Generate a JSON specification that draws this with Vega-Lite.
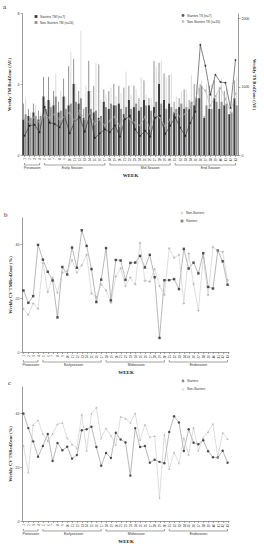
{
"$schema": "https://vega.github.io/schema/vega-lite/v6.json",
"padding": {"left": 3, "top": 3, "right": 0, "bottom": 0},
"data": {"name": "weeks"},
"datasets": {
"weeks": [
{"w":1,"g":"Starters","tm":2.0,"hi":2.9,"ts":282,"cm":22.8,"cs":39.8},{"w":1,"g":"Non-Starters","tm":2.3,"hi":3.2,"ts":520,"cm":16.0,"cs":27.9},
{"w":2,"g":"Starters","tm":2.2,"hi":2.6,"ts":428,"cm":18.2,"cs":34.4},{"w":2,"g":"Non-Starters","tm":2.1,"hi":2.4,"ts":480,"cm":13.8,"cs":18.0},
{"w":3,"g":"Starters","tm":2.4,"hi":2.9,"ts":443,"cm":20.7,"cs":29.5},{"w":3,"g":"Non-Starters","tm":2.2,"hi":2.8,"ts":560,"cm":18.0,"cs":35.6},
{"w":4,"g":"Starters","tm":2.0,"hi":2.5,"ts":331,"cm":39.7,"cs":23.8},{"w":4,"g":"Non-Starters","tm":2.2,"hi":2.4,"ts":470,"cm":16.0,"cs":37.3},
{"w":5,"g":"Starters","tm":3.3,"hi":4.4,"ts":706,"cm":34.2,"cs":27.8},{"w":5,"g":"Non-Starters","tm":2.6,"hi":3.0,"ts":590,"cm":33.0,"cs":32.3},
{"w":6,"g":"Starters","tm":3.1,"hi":4.4,"ts":472,"cm":29.7,"cs":32.2},{"w":6,"g":"Non-Starters","tm":2.7,"hi":3.0,"ts":540,"cm":22.2,"cs":29.6},
{"w":7,"g":"Starters","tm":2.8,"hi":3.6,"ts":453,"cm":26.5,"cs":22.2},{"w":7,"g":"Non-Starters","tm":3.3,"hi":4.6,"ts":600,"cm":27.5,"cs":32.2},
{"w":8,"g":"Starters","tm":2.4,"hi":3.0,"ts":404,"cm":12.8,"cs":28.9},{"w":8,"g":"Non-Starters","tm":2.5,"hi":3.6,"ts":520,"cm":21.9,"cs":35.9},
{"w":9,"g":"Starters","tm":3.3,"hi":4.3,"ts":564,"cm":31.5,"cs":26.2},{"w":9,"g":"Non-Starters","tm":2.6,"hi":3.3,"ts":560,"cm":29.4,"cs":36.4},
{"w":10,"g":"Starters","tm":2.8,"hi":5.0,"ts":316,"cm":28.7,"cs":27.5},{"w":10,"g":"Non-Starters","tm":2.9,"hi":5.8,"ts":620,"cm":30.0,"cs":30.7},
{"w":11,"g":"Starters","tm":4.0,"hi":5.4,"ts":491,"cm":38.7,"cs":23.1},{"w":11,"g":"Non-Starters","tm":3.0,"hi":4.0,"ts":480,"cm":34.0,"cs":28.4},
{"w":12,"g":"Starters","tm":2.9,"hi":3.6,"ts":550,"cm":31.2,"cs":24.4},{"w":12,"g":"Non-Starters","tm":3.2,"hi":7.0,"ts":650,"cm":29.4,"cs":27.0},
{"w":13,"g":"Starters","tm":2.1,"hi":2.6,"ts":341,"cm":45.1,"cs":33.6},{"w":13,"g":"Non-Starters","tm":2.7,"hi":3.9,"ts":520,"cm":32.1,"cs":39.5},
{"w":14,"g":"Starters","tm":3.6,"hi":5.3,"ts":584,"cm":39.3,"cs":34.0},{"w":14,"g":"Non-Starters","tm":2.6,"hi":3.6,"ts":600,"cm":36.0,"cs":26.0},
{"w":15,"g":"Starters","tm":2.4,"hi":3.9,"ts":248,"cm":30.7,"cs":34.9},{"w":15,"g":"Non-Starters","tm":2.5,"hi":5.2,"ts":450,"cm":21.7,"cs":39.8},
{"w":16,"g":"Starters","tm":2.1,"hi":5.1,"ts":316,"cm":18.5,"cs":27.4},{"w":16,"g":"Non-Starters","tm":2.2,"hi":3.1,"ts":520,"cm":20.3,"cs":42.1},
{"w":17,"g":"Starters","tm":3.0,"hi":3.7,"ts":375,"cm":26.8,"cs":20.5},{"w":17,"g":"Non-Starters","tm":2.7,"hi":3.4,"ts":430,"cm":25.0,"cs":30.7},
{"w":18,"g":"Starters","tm":2.6,"hi":3.6,"ts":331,"cm":38.5,"cs":25.2},{"w":18,"g":"Non-Starters","tm":2.9,"hi":3.8,"ts":500,"cm":22.9,"cs":34.3},
{"w":19,"g":"Starters","tm":2.8,"hi":4.0,"ts":433,"cm":19.1,"cs":23.3},{"w":19,"g":"Non-Starters","tm":2.8,"hi":3.3,"ts":560,"cm":18.2,"cs":31.6},
{"w":20,"g":"Starters","tm":2.9,"hi":3.9,"ts":268,"cm":34.1,"cs":32.7},{"w":20,"g":"Non-Starters","tm":2.6,"hi":3.5,"ts":420,"cm":28.0,"cs":28.3},
{"w":21,"g":"Starters","tm":2.3,"hi":3.8,"ts":521,"cm":33.9,"cs":30.2},{"w":21,"g":"Non-Starters","tm":2.7,"hi":4.7,"ts":580,"cm":31.0,"cs":38.6},
{"w":22,"g":"Starters","tm":3.1,"hi":3.9,"ts":574,"cm":26.7,"cs":29.1},{"w":22,"g":"Non-Starters","tm":2.6,"hi":3.4,"ts":520,"cm":24.4,"cs":37.9},
{"w":23,"g":"Starters","tm":2.7,"hi":3.9,"ts":375,"cm":33.0,"cs":16.8},{"w":23,"g":"Non-Starters","tm":2.9,"hi":3.7,"ts":470,"cm":27.6,"cs":36.4},
{"w":24,"g":"Starters","tm":2.5,"hi":3.2,"ts":277,"cm":33.1,"cs":34.4},{"w":24,"g":"Non-Starters","tm":2.7,"hi":4.4,"ts":430,"cm":25.1,"cs":39.9},
{"w":25,"g":"Starters","tm":3.1,"hi":4.2,"ts":355,"cm":35.6,"cs":27.4},{"w":25,"g":"Non-Starters","tm":2.8,"hi":3.4,"ts":560,"cm":40.4,"cs":30.1},
{"w":26,"g":"Starters","tm":2.8,"hi":3.2,"ts":268,"cm":31.3,"cs":27.8},{"w":26,"g":"Non-Starters","tm":2.5,"hi":3.2,"ts":380,"cm":26.4,"cs":35.7},
{"w":27,"g":"Starters","tm":2.7,"hi":5.3,"ts":545,"cm":36.0,"cs":21.6},{"w":27,"g":"Non-Starters","tm":3.0,"hi":5.0,"ts":600,"cm":26.1,"cs":31.0},
{"w":28,"g":"Starters","tm":4.0,"hi":5.2,"ts":574,"cm":27.7,"cs":22.7},{"w":28,"g":"Non-Starters","tm":2.9,"hi":5.3,"ts":540,"cm":30.7,"cs":31.5},
{"w":29,"g":"Starters","tm":3.1,"hi":4.6,"ts":307,"cm":5.2,"cs":21.9},{"w":29,"g":"Non-Starters","tm":2.6,"hi":4.4,"ts":420,"cm":24.4,"cs":8.5},
{"w":30,"g":"Starters","tm":2.9,"hi":4.5,"ts":428,"cm":26.6,"cs":21.4},{"w":30,"g":"Non-Starters","tm":2.7,"hi":4.6,"ts":520,"cm":21.2,"cs":32.1},
{"w":31,"g":"Starters","tm":2.4,"hi":3.0,"ts":550,"cm":26.6,"cs":33.0},{"w":31,"g":"Non-Starters","tm":2.6,"hi":3.3,"ts":640,"cm":38.4,"cs":19.3},
{"w":32,"g":"Starters","tm":2.7,"hi":3.2,"ts":400,"cm":27.0,"cs":38.8},{"w":32,"g":"Non-Starters","tm":2.9,"hi":3.6,"ts":560,"cm":34.9,"cs":25.4},
{"w":33,"g":"Starters","tm":2.6,"hi":3.7,"ts":277,"cm":23.3,"cs":36.5},{"w":33,"g":"Non-Starters","tm":2.7,"hi":3.7,"ts":600,"cm":36.0,"cs":21.4},
{"w":34,"g":"Starters","tm":2.6,"hi":3.1,"ts":467,"cm":38.2,"cs":25.9},{"w":34,"g":"Non-Starters","tm":3.0,"hi":4.5,"ts":700,"cm":18.0,"cs":30.7},
{"w":35,"g":"Starters","tm":2.8,"hi":4.0,"ts":633,"cm":30.9,"cs":34.0},{"w":35,"g":"Non-Starters","tm":3.2,"hi":4.0,"ts":820,"cm":36.5,"cs":24.6},
{"w":36,"g":"Starters","tm":3.2,"hi":3.8,"ts":1611,"cm":33.1,"cs":29.0},{"w":36,"g":"Non-Starters","tm":3.9,"hi":4.2,"ts":1020,"cm":25.2,"cs":34.6},
{"w":37,"g":"Starters","tm":2.1,"hi":2.2,"ts":1304,"cm":29.1,"cs":28.4},{"w":37,"g":"Non-Starters","tm":2.8,"hi":4.0,"ts":940,"cm":15.4,"cs":26.0},
{"w":38,"g":"Starters","tm":2.6,"hi":3.9,"ts":881,"cm":36.6,"cs":29.9},{"w":38,"g":"Non-Starters","tm":2.6,"hi":4.0,"ts":720,"cm":35.0,"cs":30.9},
{"w":39,"g":"Starters","tm":3.2,"hi":4.2,"ts":1173,"cm":24.1,"cs":25.8},{"w":39,"g":"Non-Starters","tm":3.0,"hi":3.5,"ts":860,"cm":21.1,"cs":33.0},
{"w":40,"g":"Starters","tm":2.6,"hi":3.8,"ts":1066,"cm":23.5,"cs":23.6},{"w":40,"g":"Non-Starters","tm":3.0,"hi":4.3,"ts":980,"cm":38.9,"cs":36.0},
{"w":41,"g":"Starters","tm":2.8,"hi":3.6,"ts":1056,"cm":37.6,"cs":23.5},{"w":41,"g":"Non-Starters","tm":2.9,"hi":3.7,"ts":820,"cm":37.4,"cs":23.7},
{"w":42,"g":"Starters","tm":2.3,"hi":2.3,"ts":686,"cm":33.6,"cs":26.0},{"w":42,"g":"Non-Starters","tm":2.4,"hi":3.1,"ts":620,"cm":37.1,"cs":32.7},
{"w":43,"g":"Starters","tm":3.2,"hi":4.2,"ts":1387,"cm":24.9,"cs":21.6},{"w":43,"g":"Non-Starters","tm":2.8,"hi":4.4,"ts":900,"cm":26.6,"cs":30.4}
],
"phA": [{"p":"Preseason","s":1,"e":4,"m":2.5},{"p":"Early Season","s":5,"e":17,"m":10.5},{"p":"Mid Season","s":18,"e":30,"m":26},{"p":"End Season","s":31,"e":43,"m":38}],
"phB": [{"p":"Preseason","s":1,"e":4,"m":2.5},{"p":"Earlyseason","s":5,"e":17,"m":11.3},{"p":"Midseason","s":18,"e":30,"m":24.2},{"p":"Endseason","s":31,"e":43,"m":37}]
},
"config": {
"view": {"stroke": null},
"font": "Liberation Sans",
"axis": {"grid": false, "labelFontSize": 3.5, "titleFontSize": 4.6, "titleFont": "Liberation Serif", "titleFontWeight": "bold", "titleColor": "#222", "labelColor": "#333", "domainColor": "#555", "tickColor": "#555", "domainWidth": 0.6, "tickWidth": 0.5, "tickSize": 2, "labelPadding": 1, "titlePadding": 3},
"legend": {"labelFontSize": 3.2, "symbolSize": 8, "rowPadding": 2, "padding": 0, "labelOffset": 2, "symbolStrokeWidth": 0.5, "labelColor": "#333", "title": null, "orient": "none"},
"title": {"font": "Liberation Serif", "fontWeight": "normal", "fontSize": 7, "anchor": "start", "frame": "bounds", "color": "#222"}
},
"resolve": {"scale": {"fill": "independent", "stroke": "independent", "shape": "independent"}, "legend": {"fill": "independent", "shape": "independent"}},
"concat": [
{"vconcat": [
 {"width": 216, "height": 142,
  "title": {"text": "a", "offset": 1, "dx": -3},
  "layer": [
   {"layer": [
    {"mark": {"type": "bar"},
     "encoding": {
      "x": {"field": "w", "type": "ordinal", "scale": {"paddingInner": 0.16, "paddingOuter": 0.08}, "axis": {"labelAngle": -90, "title": null, "labelFontSize": 3, "labelOverlap": false, "tickSize": 1.5}},
      "xOffset": {"field": "g", "type": "nominal", "scale": {"domain": ["Starters", "Non-Starters"], "paddingInner": 0.1}},
      "y": {"field": "tm", "type": "quantitative", "scale": {"domain": [0, 8]}, "axis": {"values": [0, 2, 4, 6, 8], "title": "Weekly TM RedZone (AU)", "titlePadding": 6}},
      "fill": {"field": "g", "type": "nominal", "scale": {"domain": ["Starters", "Non-Starters"], "range": ["#3a3a3a", "#8f8f8f"]}, "legend": {"orient": "none", "legendX": 12, "legendY": 1.5, "labelExpr": "datum.label == 'Starters' ? 'Starters TM (n=7)' : 'Non-Starters TM (n=16)'"}}
     }},
    {"transform": [{"filter": "datum.g == 'Starters'"}],
     "mark": {"type": "rule", "color": "#4a4a4a", "strokeWidth": 0.6},
     "encoding": {
      "x": {"field": "w", "type": "ordinal"},
      "xOffset": {"field": "g", "type": "nominal"},
      "y": {"field": "tm", "type": "quantitative"}, "y2": {"field": "hi"}}},
    {"transform": [{"filter": "datum.g == 'Non-Starters'"}],
     "mark": {"type": "rule", "color": "#c4c4c4", "strokeWidth": 0.6},
     "encoding": {
      "x": {"field": "w", "type": "ordinal"},
      "xOffset": {"field": "g", "type": "nominal"},
      "y": {"field": "tm", "type": "quantitative"}, "y2": {"field": "hi"}}}
   ]},
   {"layer": [
    {"mark": {"type": "line", "strokeWidth": 0.6},
     "encoding": {
      "x": {"field": "w", "type": "ordinal"},
      "y": {"field": "ts", "type": "quantitative", "scale": {"domain": [0, 2075], "nice": false}, "axis": {"orient": "right", "values": [0, 500, 1000, 1500, 2000], "format": "d", "title": "Weekly TS RedZone (AU)", "titlePadding": 3}},
      "stroke": {"field": "g", "type": "nominal", "scale": {"domain": ["Starters", "Non-Starters"], "range": ["#333333", "#bbbbbb"]}, "legend": null}}},
    {"mark": {"type": "point", "filled": true, "size": 6},
     "encoding": {
      "x": {"field": "w", "type": "ordinal"},
      "y": {"field": "ts", "type": "quantitative"},
      "fill": {"field": "g", "type": "nominal", "scale": {"domain": ["Starters", "Non-Starters"], "range": ["#111111", "#aaaaaa"]}, "legend": {"orient": "none", "legendX": 159, "legendY": 0.5, "labelExpr": "datum.label == 'Starters' ? 'Starters TS (n=7)' : 'Non-Starters TS (n=16)'"}},
      "shape": {"field": "g", "type": "nominal", "scale": {"domain": ["Starters", "Non-Starters"], "range": ["diamond", "cross"]}}}}
   ]}
  ],
  "resolve": {"scale": {"y": "independent", "fill": "independent"}}
 },
 {"width": 216, "height": 5, "data": {"name": "phA"},
  "layer": [
   {"mark": {"type": "rule", "color": "#444", "strokeWidth": 0.5},
    "encoding": {
     "x": {"field": "s", "type": "quantitative", "scale": {"domain": [0.5, 43.5], "nice": false, "zero": false}, "axis": {"title": "WEEK", "labels": false, "ticks": false, "domain": false, "titleFontSize": 5, "titlePadding": 2}},
     "x2": {"field": "e"},
     "y": {"datum": 1, "type": "quantitative", "scale": {"domain": [0, 1]}, "axis": null}}},
   {"mark": {"type": "rule", "color": "#444", "strokeWidth": 0.5},
    "encoding": {"x": {"field": "s", "type": "quantitative"}, "y": {"datum": 1, "type": "quantitative"}, "y2": {"datum": 1.4}}},
   {"mark": {"type": "rule", "color": "#444", "strokeWidth": 0.5},
    "encoding": {"x": {"field": "e", "type": "quantitative"}, "y": {"datum": 1, "type": "quantitative"}, "y2": {"datum": 1.4}}},
   {"mark": {"type": "text", "fontSize": 3.5, "baseline": "bottom", "color": "#333"},
    "encoding": {"x": {"field": "m", "type": "quantitative"}, "y": {"datum": 0, "type": "quantitative"}, "text": {"field": "p"}}}
  ]}
 ], "spacing": 1,
 "resolve": {"scale": {"fill": "independent", "stroke": "independent", "shape": "independent"}, "legend": {"fill": "independent", "shape": "independent"}}},
{"concat": [
 {"vconcat": [
  {"width": 207, "height": 135,
   "title": {"text": "b", "offset": -7, "dx": -3},
   "layer": [
    {"mark": {"type": "line", "strokeWidth": 0.6},
     "encoding": {
      "x": {"field": "w", "type": "quantitative", "scale": {"domain": [0.7, 43.3], "nice": false, "zero": false}, "axis": {"values": [1,2,3,4,5,6,7,8,9,10,11,12,13,14,15,16,17,18,19,20,21,22,23,24,25,26,27,28,29,30,31,32,33,34,35,36,37,38,39,40,41,42,43], "format": "d", "labelAngle": -90, "title": null, "labelFontSize": 3, "labelOverlap": false, "labelFlush": false, "labelBound": false, "tickSize": 1.5}},
      "y": {"field": "cm", "type": "quantitative", "scale": {"domain": [0, 50]}, "axis": {"values": [0, 10, 20, 30, 40, 50], "title": "Weekly CV TMRedZone (%)"}},
      "stroke": {"field": "g", "type": "nominal", "scale": {"domain": ["Non-Starters", "Starters"], "range": ["#c8c8c8", "#8a8a8a"]}, "legend": null}}},
    {"mark": {"type": "point", "filled": true, "size": 6},
     "encoding": {
      "x": {"field": "w", "type": "quantitative", "axis": {"values": [1,2,3,4,5,6,7,8,9,10,11,12,13,14,15,16,17,18,19,20,21,22,23,24,25,26,27,28,29,30,31,32,33,34,35,36,37,38,39,40,41,42,43], "format": "d", "labelAngle": -90, "title": null, "labelFontSize": 3, "labelOverlap": false, "labelFlush": false, "labelBound": false, "tickSize": 1.5}},
      "y": {"field": "cm", "type": "quantitative"},
      "fill": {"field": "g", "type": "nominal", "scale": {"domain": ["Non-Starters", "Starters"], "range": ["#aaaaaa", "#111111"]}, "legend": {"orient": "none", "legendX": 158, "legendY": -6}},
      "shape": {"field": "g", "type": "nominal", "scale": {"domain": ["Non-Starters", "Starters"], "range": ["cross", "square"]}}}}
   ],
   "resolve": {"scale": {"fill": "independent", "shape": "independent", "stroke": "independent"}}},
  {"width": 207, "height": 5, "data": {"name": "phB"},
   "layer": [
    {"mark": {"type": "rule", "color": "#444", "strokeWidth": 0.5},
     "encoding": {
      "x": {"field": "s", "type": "quantitative", "scale": {"domain": [0.7, 43.3], "nice": false, "zero": false}, "axis": {"title": "WEEK", "labels": false, "ticks": false, "domain": false, "titleFontSize": 5, "titlePadding": 2}},
      "x2": {"field": "e"},
      "y": {"datum": 1, "type": "quantitative", "scale": {"domain": [0, 1]}, "axis": null}}},
    {"mark": {"type": "rule", "color": "#444", "strokeWidth": 0.5},
     "encoding": {"x": {"field": "s", "type": "quantitative"}, "y": {"datum": 1, "type": "quantitative"}, "y2": {"datum": 1.4}}},
    {"mark": {"type": "rule", "color": "#444", "strokeWidth": 0.5},
     "encoding": {"x": {"field": "e", "type": "quantitative"}, "y": {"datum": 1, "type": "quantitative"}, "y2": {"datum": 1.4}}},
    {"mark": {"type": "text", "fontSize": 3.5, "baseline": "bottom", "color": "#333"},
     "encoding": {"x": {"field": "m", "type": "quantitative"}, "y": {"datum": 0, "type": "quantitative"}, "text": {"field": "p"}}}
   ]}
  ], "spacing": 1,
  "resolve": {"scale": {"fill": "independent", "stroke": "independent", "shape": "independent"}, "legend": {"fill": "independent", "shape": "independent"}}},
 {"vconcat": [
  {"width": 207, "height": 135,
   "title": {"text": "c", "offset": -7, "dx": 1},
   "layer": [
    {"mark": {"type": "line", "strokeWidth": 0.6},
     "encoding": {
      "x": {"field": "w", "type": "quantitative", "scale": {"domain": [0.7, 43.3], "nice": false, "zero": false}, "axis": {"values": [1,2,3,4,5,6,7,8,9,10,11,12,13,14,15,16,17,18,19,20,21,22,23,24,25,26,27,28,29,30,31,32,33,34,35,36,37,38,39,40,41,42,43], "format": "d", "labelAngle": -90, "title": null, "labelFontSize": 3, "labelOverlap": false, "labelFlush": false, "labelBound": false, "tickSize": 1.5}},
      "y": {"field": "cs", "type": "quantitative", "scale": {"domain": [0, 50]}, "axis": {"values": [0, 10, 20, 30, 40, 50], "title": "Weekly CV TSRedZone (%)"}},
      "stroke": {"field": "g", "type": "nominal", "scale": {"domain": ["Starters", "Non-Starters"], "range": ["#8a8a8a", "#c8c8c8"]}, "legend": null}}},
    {"mark": {"type": "point", "filled": true, "size": 6},
     "encoding": {
      "x": {"field": "w", "type": "quantitative", "axis": {"values": [1,2,3,4,5,6,7,8,9,10,11,12,13,14,15,16,17,18,19,20,21,22,23,24,25,26,27,28,29,30,31,32,33,34,35,36,37,38,39,40,41,42,43], "format": "d", "labelAngle": -90, "title": null, "labelFontSize": 3, "labelOverlap": false, "labelFlush": false, "labelBound": false, "tickSize": 1.5}},
      "y": {"field": "cs", "type": "quantitative"},
      "fill": {"field": "g", "type": "nominal", "scale": {"domain": ["Starters", "Non-Starters"], "range": ["#111111", "#aaaaaa"]}, "legend": {"orient": "none", "legendX": 159, "legendY": -7}},
      "shape": {"field": "g", "type": "nominal", "scale": {"domain": ["Starters", "Non-Starters"], "range": ["circle", "triangle-up"]}}}}
   ],
   "resolve": {"scale": {"fill": "independent", "shape": "independent", "stroke": "independent"}}},
  {"width": 207, "height": 5, "data": {"name": "phB"},
   "layer": [
    {"mark": {"type": "rule", "color": "#444", "strokeWidth": 0.5},
     "encoding": {
      "x": {"field": "s", "type": "quantitative", "scale": {"domain": [0.7, 43.3], "nice": false, "zero": false}, "axis": {"title": "WEEK", "labels": false, "ticks": false, "domain": false, "titleFontSize": 5, "titlePadding": 2}},
      "x2": {"field": "e"},
      "y": {"datum": 1, "type": "quantitative", "scale": {"domain": [0, 1]}, "axis": null}}},
    {"mark": {"type": "rule", "color": "#444", "strokeWidth": 0.5},
     "encoding": {"x": {"field": "s", "type": "quantitative"}, "y": {"datum": 1, "type": "quantitative"}, "y2": {"datum": 1.4}}},
    {"mark": {"type": "rule", "color": "#444", "strokeWidth": 0.5},
     "encoding": {"x": {"field": "e", "type": "quantitative"}, "y": {"datum": 1, "type": "quantitative"}, "y2": {"datum": 1.4}}},
    {"mark": {"type": "text", "fontSize": 3.5, "baseline": "bottom", "color": "#333"},
     "encoding": {"x": {"field": "m", "type": "quantitative"}, "y": {"datum": 0, "type": "quantitative"}, "text": {"field": "p"}}}
   ]}
  ], "spacing": 1,
  "resolve": {"scale": {"fill": "independent", "stroke": "independent", "shape": "independent"}, "legend": {"fill": "independent", "shape": "independent"}}}
 ], "columns": 1, "align": "none", "spacing": 5,
 "resolve": {"scale": {"fill": "independent", "stroke": "independent", "shape": "independent"}, "legend": {"fill": "independent", "shape": "independent"}}}
], "columns": 1, "align": "none", "spacing": 34
}
